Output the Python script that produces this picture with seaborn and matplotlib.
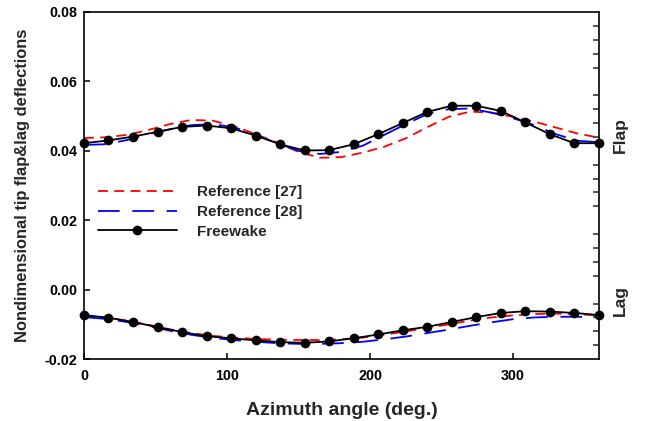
import numpy as np
import pandas as pd
import matplotlib
matplotlib.use("Agg")
import matplotlib.pyplot as plt
import seaborn as sns
from matplotlib.lines import Line2D

# Free-wake results: 22 azimuth stations over one revolution
fw_azimuth = [i * 360.0 / 21 for i in range(22)]
fw_flap = [0.0422, 0.0430, 0.0441, 0.0455, 0.0469, 0.0473, 0.0465, 0.0444,
           0.0419, 0.0401, 0.0402, 0.0419, 0.0448, 0.0480, 0.0512, 0.0530,
           0.0530, 0.0515, 0.0482, 0.0448, 0.0422, 0.0422]
fw_lag = [-0.0073, -0.0081, -0.0093, -0.0108, -0.0122, -0.0134, -0.0140,
          -0.0146, -0.0151, -0.0153, -0.0149, -0.0140, -0.0129, -0.0117,
          -0.0107, -0.0093, -0.0079, -0.0067, -0.0062, -0.0063, -0.0067,
          -0.0073]

# Published reference curves, every 15 degrees
ref_azimuth = list(range(0, 361, 15))
ref27_flap = [0.0437, 0.0439, 0.0446, 0.0460, 0.0477, 0.0489, 0.0487, 0.0471,
              0.0448, 0.0424, 0.0397, 0.0380, 0.0382, 0.0395, 0.0412, 0.0436,
              0.0468, 0.0498, 0.0513, 0.0510, 0.0498, 0.0484, 0.0467, 0.0450,
              0.0438]
ref28_flap = [0.0417, 0.0419, 0.0431, 0.0448, 0.0462, 0.0474, 0.0477, 0.0468,
              0.0446, 0.0422, 0.0400, 0.0391, 0.0397, 0.0415, 0.0446, 0.0477,
              0.0506, 0.0520, 0.0522, 0.0510, 0.0494, 0.0474, 0.0448, 0.0429,
              0.0425]
ref27_lag = [-0.0075, -0.0080, -0.0089, -0.0101, -0.0114, -0.0125, -0.0133,
             -0.0138, -0.0142, -0.0144, -0.0145, -0.0145, -0.0143, -0.0138,
             -0.0130, -0.0120, -0.0110, -0.0100, -0.0089, -0.0080, -0.0074,
             -0.0070, -0.0069, -0.0071, -0.0074]
ref28_lag = [-0.0079, -0.0084, -0.0093, -0.0105, -0.0118, -0.0130, -0.0139,
             -0.0145, -0.0150, -0.0154, -0.0156, -0.0156, -0.0154, -0.0150,
             -0.0143, -0.0135, -0.0125, -0.0115, -0.0104, -0.0094, -0.0085,
             -0.0080, -0.0078, -0.0078, -0.0080]

legend_labels = ["Reference [27]", "Reference [28]", "Freewake"]
x_ticks = [0, 100, 200, 300]
y_ticks = [-0.02, 0.00, 0.02, 0.04, 0.06, 0.08]

sns.set_style("ticks")
plt.rcParams["font.family"] = ["Liberation Sans", "DejaVu Sans"]
plt.rcParams["font.weight"] = "bold"

fig = plt.figure(figsize=(6.46, 4.21), dpi=100)
ax = fig.add_axes([0.130, 0.147, 0.797, 0.8245])

red_ls = (0, (5.5, 3.5))
blue_ls = (0, (12, 7))
lw = 1.3

for ys in (ref27_flap, ref27_lag):
    sns.lineplot(x=ref_azimuth, y=ys, ax=ax, color="#ff0000", lw=lw,
                 linestyle=red_ls, sort=False)
for ys in (ref28_flap, ref28_lag):
    sns.lineplot(x=ref_azimuth, y=ys, ax=ax, color="#0000ff", lw=lw,
                 linestyle=blue_ls, sort=False)
for ys in (fw_flap, fw_lag):
    sns.lineplot(x=fw_azimuth, y=ys, ax=ax, color="black", lw=lw,
                 marker="o", markersize=7, markeredgewidth=0, sort=False,
                 clip_on=False, zorder=5)

ax.set_xlim(0, 360)
ax.set_ylim(-0.02, 0.08)
ax.set_xticks(x_ticks)
ax.set_yticks(y_ticks)
ax.set_xticklabels([str(v) for v in x_ticks])
ax.set_yticklabels([f"{v:.2f}" for v in y_ticks])
for s in ax.spines.values():
    s.set_linewidth(1.2)
    s.set_color("black")
ax.tick_params(axis="both", direction="in", length=4, width=1.1,
               labelsize=10.3, pad=5, colors="black")
ax.tick_params(axis="x", pad=7)
for lab in ax.get_xticklabels() + ax.get_yticklabels():
    lab.set_fontweight("bold")

# right-hand scale: unlabelled fine ticks
ax2 = ax.twinx()
ax2.set_ylim(-0.02, 0.08)
minor = [round(-0.02 + 0.004 * k, 3) for k in range(26)]
minor = [m for m in minor if abs(round(m / 0.02) * 0.02 - m) > 1e-6]
ax2.set_yticks(minor)
ax2.set_yticklabels([])
ax2.tick_params(axis="y", direction="in", length=4, width=1.1)
for s in ax2.spines.values():
    s.set_visible(False)

ax.set_xlabel("Azimuth angle (deg.)", fontsize=14, fontweight="bold",
              labelpad=14)
ax.set_ylabel("Nondimensional tip flap&lag deflections", fontsize=11.9,
              fontweight="bold", labelpad=10)

fig.text(0.960, 0.679, "Flap", rotation=90, ha="center", va="center",
         fontsize=12.5, fontweight="bold")
fig.text(0.960, 0.287, "Lag", rotation=90, ha="center", va="center",
         fontsize=12.5, fontweight="bold")

handles = [
    Line2D([], [], color="#ff0000", lw=lw, linestyle=red_ls),
    Line2D([], [], color="#0000ff", lw=lw, linestyle=blue_ls),
    Line2D([], [], color="black", lw=lw, marker="o", markersize=7,
           markeredgewidth=0),
]
leg = ax.legend(handles, legend_labels, loc="upper left",
                bbox_to_anchor=(0.0, 0.54), frameon=False,
                handlelength=5.2, handletextpad=1.3, labelspacing=0.37,
                prop={"weight": "bold", "size": 11})

fig.savefig("out.png", dpi=100)
